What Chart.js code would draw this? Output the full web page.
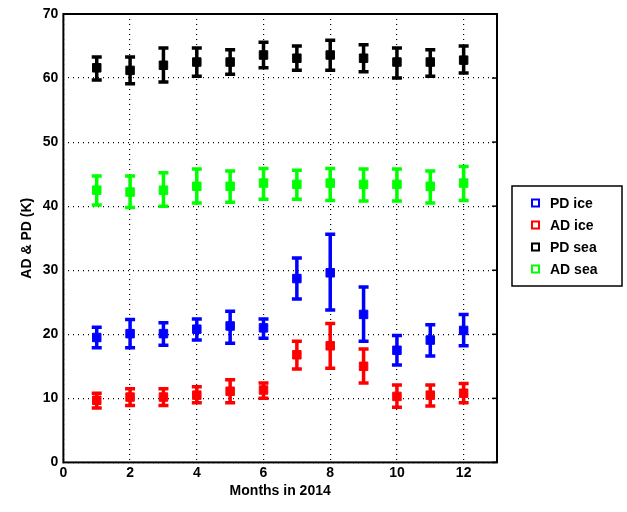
<!DOCTYPE html>
<html><head><meta charset="utf-8">
<script src="https://cdn.jsdelivr.net/npm/chart.js@4"></script>
<style>body{margin:0;background:#fff}</style>
</head><body>
<canvas id="c" width="627" height="512"></canvas>
<script>
const months = [1,2,3,4,5,6,7,8,9,10,11,12];
const pdIce = [19.5,20.1,20.1,20.8,21.3,21.0,28.7,29.6,23.1,17.5,19.1,20.6];
const pdIceHi = [21.1,22.3,21.8,22.4,23.6,22.4,31.9,35.6,27.4,19.8,21.5,23.1];
const pdIceLo = [17.9,17.9,18.3,19.1,18.6,19.4,25.5,23.8,18.9,15.2,16.6,18.2];
const adIce = [9.7,10.2,10.2,10.5,11.1,11.3,16.8,18.2,15.0,10.3,10.5,10.8];
const adIceHi = [10.8,11.5,11.5,11.8,12.9,12.4,18.9,21.7,17.7,12.1,12.1,12.3];
const adIceLo = [8.5,8.9,8.9,9.3,9.3,10.0,14.6,14.7,12.4,8.6,8.8,9.3];
const pdSea = [61.6,61.2,62.0,62.5,62.5,63.6,63.1,63.6,63.1,62.5,62.5,62.8];
const pdSeaHi = [63.3,63.3,64.7,64.7,64.4,65.6,65.0,65.9,65.2,64.7,64.4,65.0];
const pdSeaLo = [59.7,59.1,59.4,60.3,60.6,61.6,61.2,61.2,61.0,60.0,60.3,60.8];
const adSea = [42.5,42.2,42.5,43.1,43.1,43.6,43.4,43.6,43.4,43.4,43.1,43.6];
const adSeaHi = [44.7,44.7,45.2,45.8,45.5,45.9,45.6,45.9,45.8,45.8,45.5,46.2];
const adSeaLo = [40.2,39.8,40.0,40.5,40.6,41.1,41.1,40.9,40.8,40.8,40.5,40.9];

const series = [
  {label:'PD ice', color:'#0000ff', v:pdIce, hi:pdIceHi, lo:pdIceLo},
  {label:'AD ice', color:'#ff0000', v:adIce, hi:adIceHi, lo:adIceLo},
  {label:'PD sea', color:'#000000', v:pdSea, hi:pdSeaHi, lo:pdSeaLo},
  {label:'AD sea', color:'#00ff00', v:adSea, hi:adSeaHi, lo:adSeaLo}
];

const font = {family:'Liberation Sans, Arial, sans-serif', size:14, weight:'bold'};

const errorBars = {
  id:'errorBars',
  beforeDatasetsDraw(chart){
    const {ctx, scales:{x,y}} = chart;
    ctx.save();
    ctx.lineWidth = 3.5;
    series.forEach(s => {
      ctx.strokeStyle = s.color;
      months.forEach((m,i) => {
        const px = x.getPixelForValue(m), t = y.getPixelForValue(s.hi[i]), b = y.getPixelForValue(s.lo[i]);
        ctx.beginPath();
        ctx.moveTo(px,t); ctx.lineTo(px,b);
        ctx.moveTo(px-5,t); ctx.lineTo(px+5,t);
        ctx.moveTo(px-5,b); ctx.lineTo(px+5,b);
        ctx.stroke();
      });
    });
    ctx.restore();
  },
  afterDraw(chart){
    const {ctx, chartArea:a, scales:{y}} = chart;
    ctx.save();
    ctx.strokeStyle='#000'; ctx.lineWidth=2;
    ctx.strokeRect(a.left,a.top,a.right-a.left,a.bottom-a.top);
    // right-side ticks
    ctx.lineWidth=1.5;
    for(let v=0; v<=70; v+=10){
      const py=y.getPixelForValue(v);
      ctx.beginPath(); ctx.moveTo(a.right,py); ctx.lineTo(a.right-5,py); ctx.stroke();
    }
    // legend
    const lx=512, ly=186, lw=110, lh=100;
    ctx.fillStyle='#fff'; ctx.fillRect(lx,ly,lw,lh);
    ctx.lineWidth=1.5; ctx.strokeRect(lx,ly,lw,lh);
    ctx.font='bold 14px Liberation Sans, Arial, sans-serif';
    ctx.textBaseline='middle';
    series.forEach((s,i)=>{
      const yy = ly+17+i*22;
      ctx.strokeStyle=s.color; ctx.lineWidth=2;
      ctx.strokeRect(lx+20,yy-3.5,7,7);
      ctx.fillStyle='#000'; ctx.fillText(s.label,lx+38,yy+1);
    });
    ctx.restore();
  }
};

new Chart(document.getElementById('c'), {
  type:'scatter',
  data:{datasets: series.map(s => ({
    label:s.label,
    data: months.map((m,i)=>({x:m,y:s.v[i]})),
    backgroundColor:s.color, borderColor:s.color,
    pointStyle:'rect', pointRadius:6, pointHoverRadius:6
  }))},
  options:{
    responsive:false, animation:false,
    layout:{padding:{left:15,right:130,top:14,bottom:8}},
    plugins:{legend:{display:false}, tooltip:{enabled:false}},
    scales:{
      x:{min:0,max:13,
        ticks:{stepSize:2,color:'#000',font,padding:2,autoSkip:false},
        afterBuildTicks(ax){ax.ticks=[0,2,4,6,8,10,12].map(v=>({value:v}));},
        grid:{color:'#000',lineWidth:1.2,drawTicks:false},
        border:{display:false, dash:[1,4]},
        title:{display:true,text:'Months in 2014',color:'#000',font,padding:{top:0}}
      },
      y:{min:0,max:70,
        ticks:{stepSize:10,color:'#000',font,padding:5},
        grid:{color:'#000',lineWidth:1.2,drawTicks:false},
        border:{display:false, dash:[1,4]},
        title:{display:true,text:'AD & PD (K)',color:'#000',font,padding:{bottom:2}}
      }
    }
  },
  plugins:[errorBars]
});
</script>
</body></html>
